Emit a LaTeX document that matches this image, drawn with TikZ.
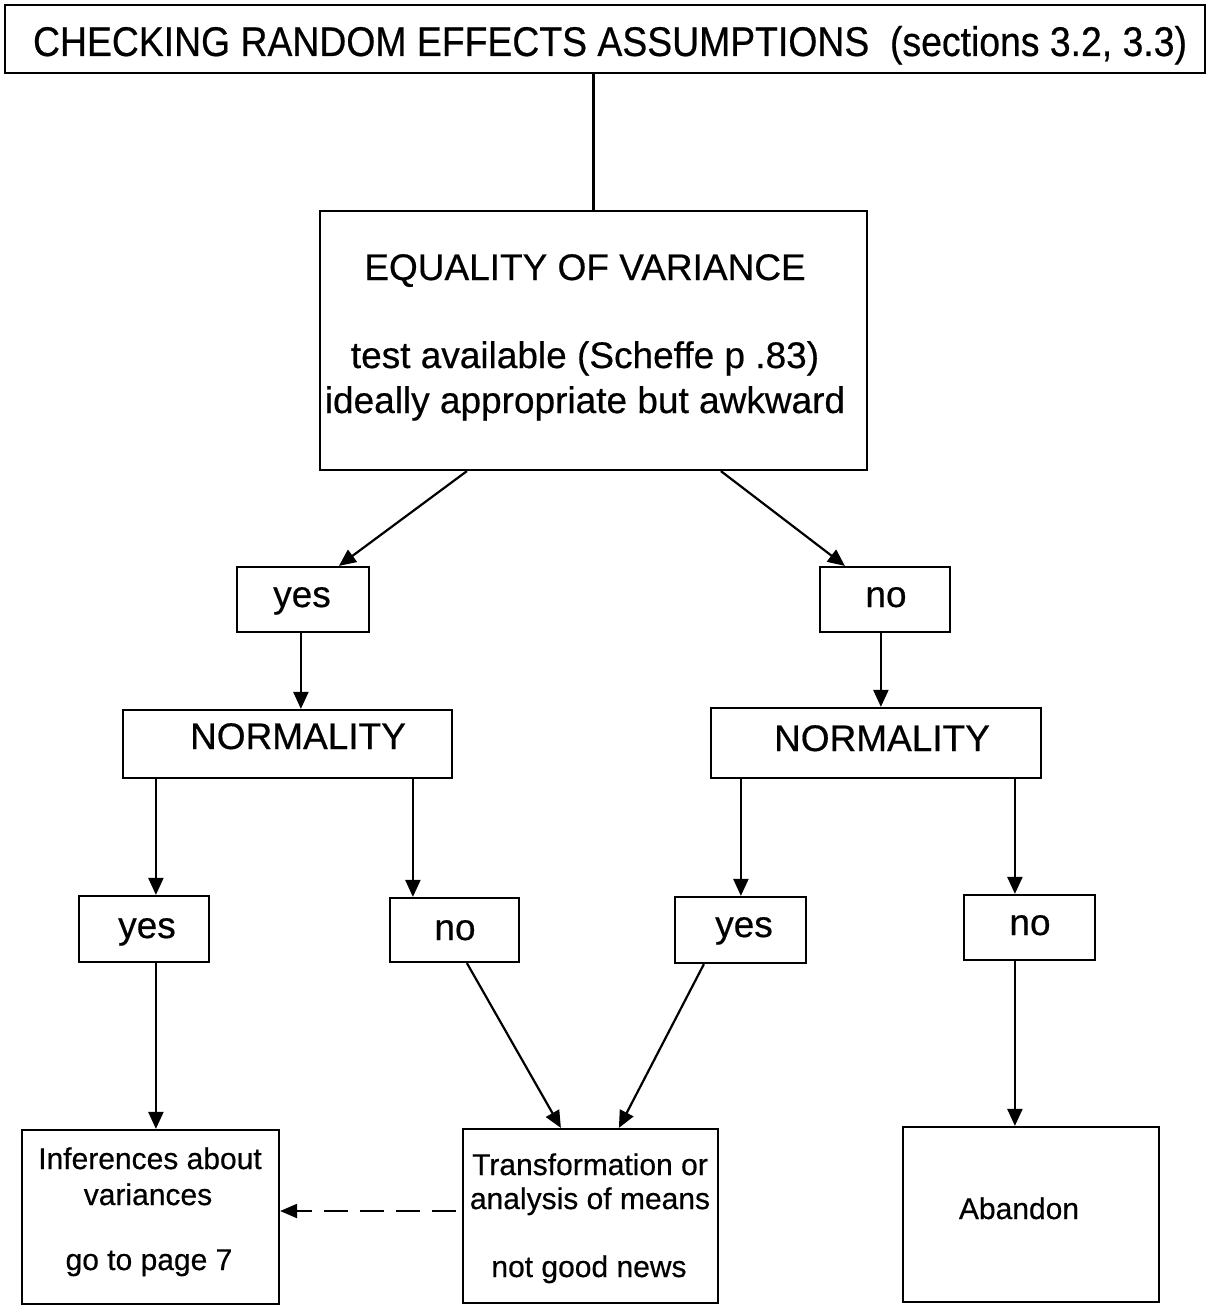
\documentclass[tikz,border=0pt]{standalone}
\usepackage{fontspec}
\setmainfont{Liberation Sans}[FakeBold=0.5]
\newfontfamily\titlefont{Liberation Sans}[FakeBold=0.5,FakeStretch=0.9]
\usetikzlibrary{arrows.meta}
\begin{document}
\begin{tikzpicture}[x=1pt,y=-1pt,
  box/.style={draw, line width=2.2pt, rectangle, inner sep=0pt},
  big/.style={anchor=base, inner sep=0pt, font=\fontsize{37}{44}\selectfont},
  small/.style={anchor=base, inner sep=0pt, font=\fontsize{30}{36}\selectfont},
  arr/.style={line width=2.2pt, -{Triangle[length=17pt,width=15pt]}},
  link/.style={line width=2.2pt}]
\useasboundingbox (0,0) rectangle (1215,1314);

% boxes
\node[box, minimum width=1200pt, minimum height=68pt]  (title) at (605,39) {};
\node[box, minimum width=547pt,  minimum height=259pt] (eq)    at (593.5,340.5) {};
\node[box, minimum width=132pt,  minimum height=65pt]  (y2)    at (303,599.5) {};
\node[box, minimum width=130pt,  minimum height=65pt]  (n2)    at (885,599.5) {};
\node[box, minimum width=329pt,  minimum height=68pt]  (NL)    at (287.5,744) {};
\node[box, minimum width=330pt,  minimum height=70pt]  (NR)    at (876,743) {};
\node[box, minimum width=130pt,  minimum height=66pt]  (y3L)   at (144,929) {};
\node[box, minimum width=129pt,  minimum height=64pt]  (n3L)   at (454.5,930) {};
\node[box, minimum width=131pt,  minimum height=66pt]  (y3R)   at (740.5,930) {};
\node[box, minimum width=131pt,  minimum height=65pt]  (n3R)   at (1029.5,927.5) {};
\node[box, minimum width=257pt,  minimum height=174pt] (inf)   at (150.5,1217) {};
\node[box, minimum width=255pt,  minimum height=174pt] (tr)    at (590.5,1216) {};
\node[box, minimum width=256pt,  minimum height=175pt] (ab)    at (1031,1214.5) {};

% texts
\node[big, font=\titlefont\fontsize{41.5}{48}\selectfont] (ttitle) at (610,56)
  {CHECKING RANDOM EFFECTS ASSUMPTIONS\ \ (sections 3.2, 3.3)};
\node[big] (teq1) at (585,280) {EQUALITY OF VARIANCE};
\node[big] (teq2) at (585,368) {test available (Scheffe p .83)};
\node[big] (teq3) at (585,413) {ideally appropriate but awkward};
\node[big] (ty2)  at (302,607) {yes};
\node[big] (tn2)  at (886,607) {no};
\node[big] (tNL)  at (298,749) {NORMALITY};
\node[big] (tNR)  at (882,751) {NORMALITY};
\node[big] (ty3L) at (147,938) {yes};
\node[big] (tn3L) at (455,940) {no};
\node[big] (ty3R) at (744,937) {yes};
\node[big] (tn3R) at (1030,935) {no};
\node[small] (tinf1) at (150,1169) {Inferences about};
\node[small] (tinf2) at (148,1205) {variances};
\node[small] (tinf3) at (149,1270) {go to page 7};
\node[small] (ttr1)  at (590,1175) {Transformation or};
\node[small] (ttr2)  at (590,1209) {analysis of means};
\node[small] (ttr3)  at (589,1277) {not good news};
\node[small] (tab)   at (1019,1219) {Abandon};

% connectors
\draw[link] (eq.north |- title.south) -- (eq.north);
\draw[arr] ([xshift=148pt]eq.south west) -- ([xshift=103pt]y2.north west);
\draw[arr] ([xshift=402pt]eq.south west) -- ([xshift=26pt]n2.north west);
\draw[arr] ([xshift=65pt]y2.south west) -- ([xshift=179pt]NL.north west);
\draw[arr] ([xshift=62pt]n2.south west) -- ([xshift=171pt]NR.north west);
\draw[arr] ([xshift=34pt]NL.south west) -- ([xshift=78pt]y3L.north west);
\draw[arr] ([xshift=291pt]NL.south west) -- ([xshift=24pt]n3L.north west);
\draw[arr] ([xshift=31pt]NR.south west) -- ([xshift=67pt]y3R.north west);
\draw[arr] ([xshift=305pt]NR.south west) -- ([xshift=52pt]n3R.north west);
\draw[arr] ([xshift=78pt]y3L.south west) -- ([xshift=135pt]inf.north west);
\draw[arr] ([xshift=78pt]n3L.south west) -- ([xshift=99pt]tr.north west);
\draw[arr] ([xshift=30pt]y3R.south west) -- ([xshift=157pt]tr.north west);
\draw[arr] ([xshift=52pt]n3R.south west) -- ([xshift=113pt]ab.north west);
\draw[line width=2.2pt, dash pattern=on 24pt off 12pt,
      -{Triangle[length=17pt,width=14pt]}, shorten <=6pt]
  ([yshift=5pt]tr.west) -- ([yshift=5pt]tr.west -| inf.east);
\end{tikzpicture}
\end{document}
